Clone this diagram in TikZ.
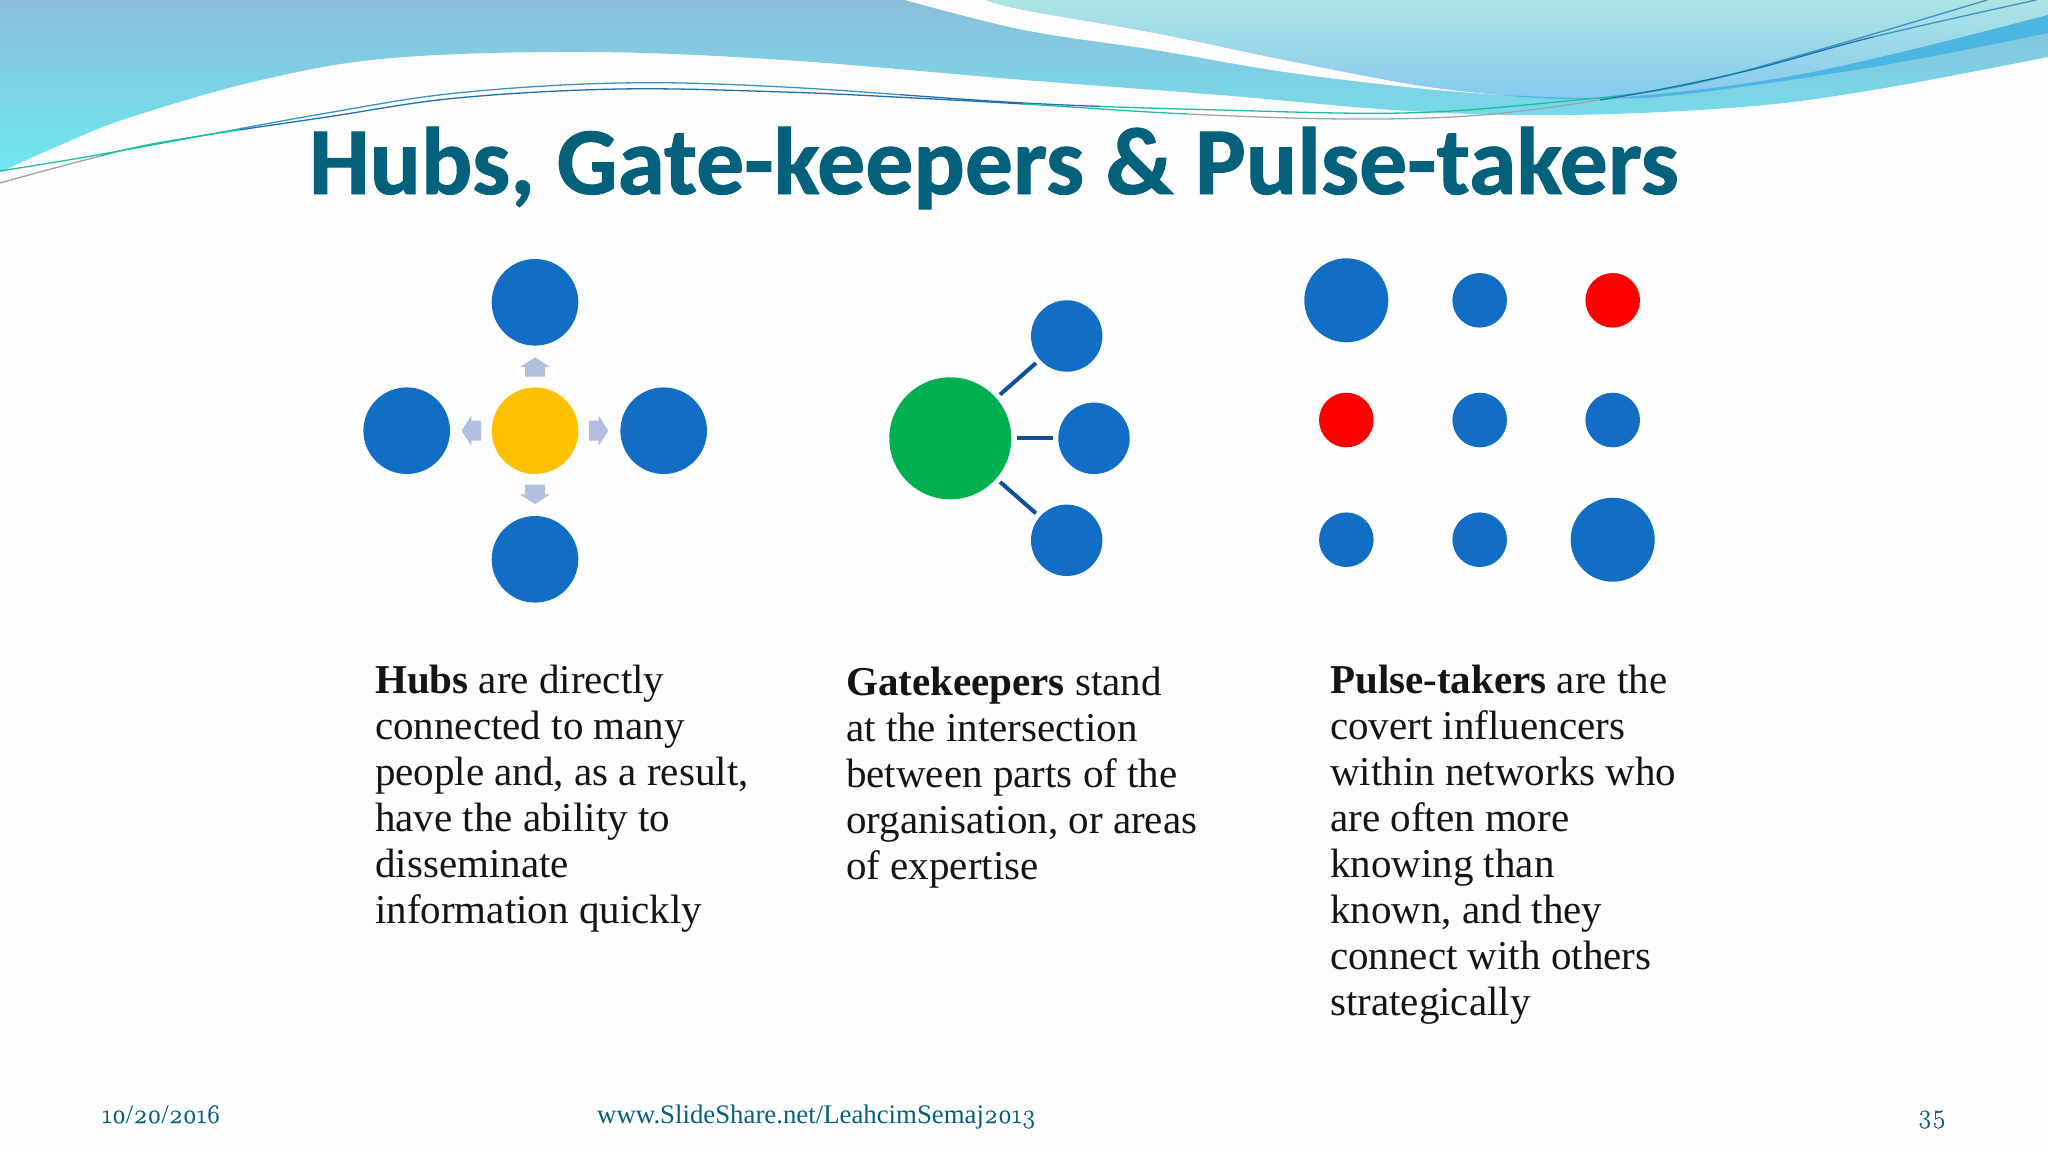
\documentclass[tikz,border=0pt]{standalone}
\usepackage{fontspec}
\setmainfont{Liberation Serif}
\newfontfamily\titlefont{Carlito}[BoldFeatures={FakeBold=1}]
\newfontfamily\onum[Numbers=OldStyle,FakeBold=0.6]{Latin Modern Roman}
\definecolor{bgc}{HTML}{FDFDFE}
\definecolor{hubblue}{HTML}{116EC4}
\definecolor{hubgold}{HTML}{FFC000}
\definecolor{gategreen}{HTML}{00B050}
\definecolor{pulsered}{HTML}{FF0000}
\definecolor{arrowc}{HTML}{B1BEE0}
\definecolor{linkc}{HTML}{0F5197}
\definecolor{titlec}{HTML}{04617B}
\definecolor{bandc}{HTML}{4DB5E1}
\definecolor{wavetop}{HTML}{8BBEDB}
\definecolor{wavebot}{HTML}{6EE8F0}
\definecolor{tealtop}{HTML}{ADE4E4}
\definecolor{tealbot}{HTML}{86C9EF}
\definecolor{lineblue}{HTML}{3A94C4}
\definecolor{linegreen}{HTML}{1DBE9C}
\definecolor{linedark}{HTML}{1F6FB0}
\definecolor{linegray}{HTML}{9AA5AD}
\newcommand{\firstline}{\rule{0pt}{30pt}}
\newcommand{\hairA}{plot[smooth,tension=.6] coordinates {(0,171)(80,158)(163,143)(327,113)(457,93)(620,83)(784,87)(1024,103)(1220,110)(1403,113)(1546,103)(1677,87)(1808,53)(1987,0)}}
\newcommand{\hairB}{plot[smooth,tension=.6] coordinates {(0,183)(85,160)(163,142)(327,117)(457,98)(620,89)(784,92)(914,98)(1024,104)(1187,114)(1350,119)(1481,115)(1612,98)(1742,72)(1873,37)(2036,0)}}
\tikzset{
  x=1pt,y=-1pt,
  dot/.style={circle,inner sep=0pt,minimum size=#1,fill=hubblue},
  link/.style={draw=linkc,line width=4pt,shorten <=5pt,shorten >=5pt},
  bodytext/.style={anchor=north west,align=left,inner sep=0pt,font=\fontsize{41}{46}\selectfont,text=black!92},
  foot/.style={anchor=base west,inner sep=0pt,text=titlec,font=\fontsize{26.8}{28}\selectfont},
  hair/.style={line width=1.3pt,line cap=round},
}
\begin{document}
\begin{tikzpicture}
\useasboundingbox (0,0) rectangle (2048,1152);
\fill[bgc] (0,0) rectangle (2048,1152);
% main wave
\path[top color=wavetop,bottom color=wavebot]
 (0,0) -- (0,172) -- plot[smooth,tension=.6] coordinates {(0,172)(65,143)(131,117)(261,80)(392,58)(588,52)(784,60)(1024,80)(1220,95)(1409,111)(1566,115)(1742,107)(1873,90)(2048,57)}
 -- (2048,0) -- cycle;
% white stripe and teal region
\fill[bgc] plot[smooth,tension=.6] coordinates {(905,0)(1024,30)(1155,50)(1285,72)(1416,88)(1501,95)}
 -- plot[smooth,tension=.6] coordinates {(1501,95)(1416,85)(1285,60)(1155,33)(1024,10)(986,0)} -- cycle;
\path[top color=tealtop,bottom color=tealbot]
 (986,0) -- plot[smooth,tension=.6] coordinates {(986,0)(1024,10)(1155,33)(1285,60)(1416,85)(1501,95)}
 -- plot[smooth,tension=.6] coordinates {(1501,95)(1612,98)(1808,73)(2048,15)} -- (2048,0) -- cycle;
\fill[bandc] plot[smooth,tension=.6] coordinates {(1501,95)(1612,98)(1808,73)(2048,15)}
 -- (2048,33) -- plot[smooth,tension=.6] coordinates {(2048,33)(1873,67)(1677,95)(1590,98)(1501,95)} -- cycle;
% thin lines, coloured section by section
\foreach \xa/\xb/\hc in {0/240/linegreen,240/900/lineblue,900/1100/linedark,1100/1760/linegreen,1760/2048/lineblue}{
  \begin{scope}\clip (\xa,0) rectangle (\xb,200);\draw[hair,\hc] \hairA;\end{scope}
}
\foreach \xa/\xb/\hc in {0/100/linegray,100/240/linegreen,240/1024/linedark,1024/1187/linegreen,1187/1600/linegray,1600/1873/linedark,1873/2048/lineblue}{
  \begin{scope}\clip (\xa,0) rectangle (\xb,200);\draw[hair,\hc] \hairB;\end{scope}
}
% title
\node[anchor=base,inner sep=0pt,text=titlec,font=\titlefont\bfseries\fontsize{95.8}{100}\selectfont] (title) at (994,194) {Hubs, Gate-keepers \& Pulse-takers};
% hubs
\node[dot=86.6pt,fill=hubgold] (hub) at (535,430.7) {};
\node[dot=86.6pt] (hubN) at (535,302.3) {};
\node[dot=86.6pt] (hubS) at (535,559.3) {};
\node[dot=86.6pt] (hubW) at (406.7,430.7) {};
\node[dot=86.6pt] (hubE) at (663.7,430.7) {};
\foreach \ang in {0,90,180,270}{
  \fill[arrowc,shift={(535,430.7)},rotate=\ang] (54,-10) -- (63.7,-10) -- (63.7,-15) -- (73.4,0) -- (63.7,15) -- (63.7,10) -- (54,10) -- cycle;
}
% gatekeepers
\node[dot=122pt,fill=gategreen] (gate) at (950.3,438.3) {};
\node[dot=71.4pt] (gateN) at (1066.7,336) {};
\node[dot=71.4pt] (gateE) at (1094,438.3) {};
\node[dot=71.4pt] (gateS) at (1066.7,540.3) {};
\draw[link] (gate) -- (gateN);
\draw[link] (gate) -- (gateE);
\draw[link] (gate) -- (gateS);
% pulse-takers
\node[dot=84pt] (p11) at (1346.3,300.3) {};
\node[dot=54.6pt] (p12) at (1479.7,300.3) {};
\node[dot=54.6pt,fill=pulsered] (p13) at (1612.7,300.3) {};
\node[dot=54.6pt,fill=pulsered] (p21) at (1346.3,420) {};
\node[dot=54.6pt] (p22) at (1479.7,420) {};
\node[dot=54.6pt] (p23) at (1612.7,420) {};
\node[dot=54.6pt] (p31) at (1346.3,539.7) {};
\node[dot=54.6pt] (p32) at (1479.7,539.7) {};
\node[dot=84pt] (p33) at (1612.7,539.7) {};
% text (node top = first baseline - 30)
\node[bodytext] (hubtext) at (375,663) {\firstline\textbf{Hubs} are directly\\connected to many\\people and, as a result,\\have the ability to\\disseminate\\information quickly};
\node[bodytext] (gatetext) at (846,665) {\firstline\textbf{Gatekeepers} stand\\at the intersection\\between parts of the\\organisation, or areas\\of expertise};
\node[bodytext] (pulsetext) at (1330,663) {\firstline\textbf{Pulse-takers} are the\\covert influencers\\within networks who\\are often more\\knowing than\\known, and they\\connect with others\\strategically};
% footer
\node[foot] (date) at (102,1123) {{\onum 10}/{\onum 20}/{\onum 2016}};
\node[foot] (site) at (597,1123) {www.SlideShare.net/LeahcimSemaj{\onum 2013}};
\node[foot,anchor=base east] (page) at (1946,1123) {{\onum 35}};
\end{tikzpicture}
\end{document}
